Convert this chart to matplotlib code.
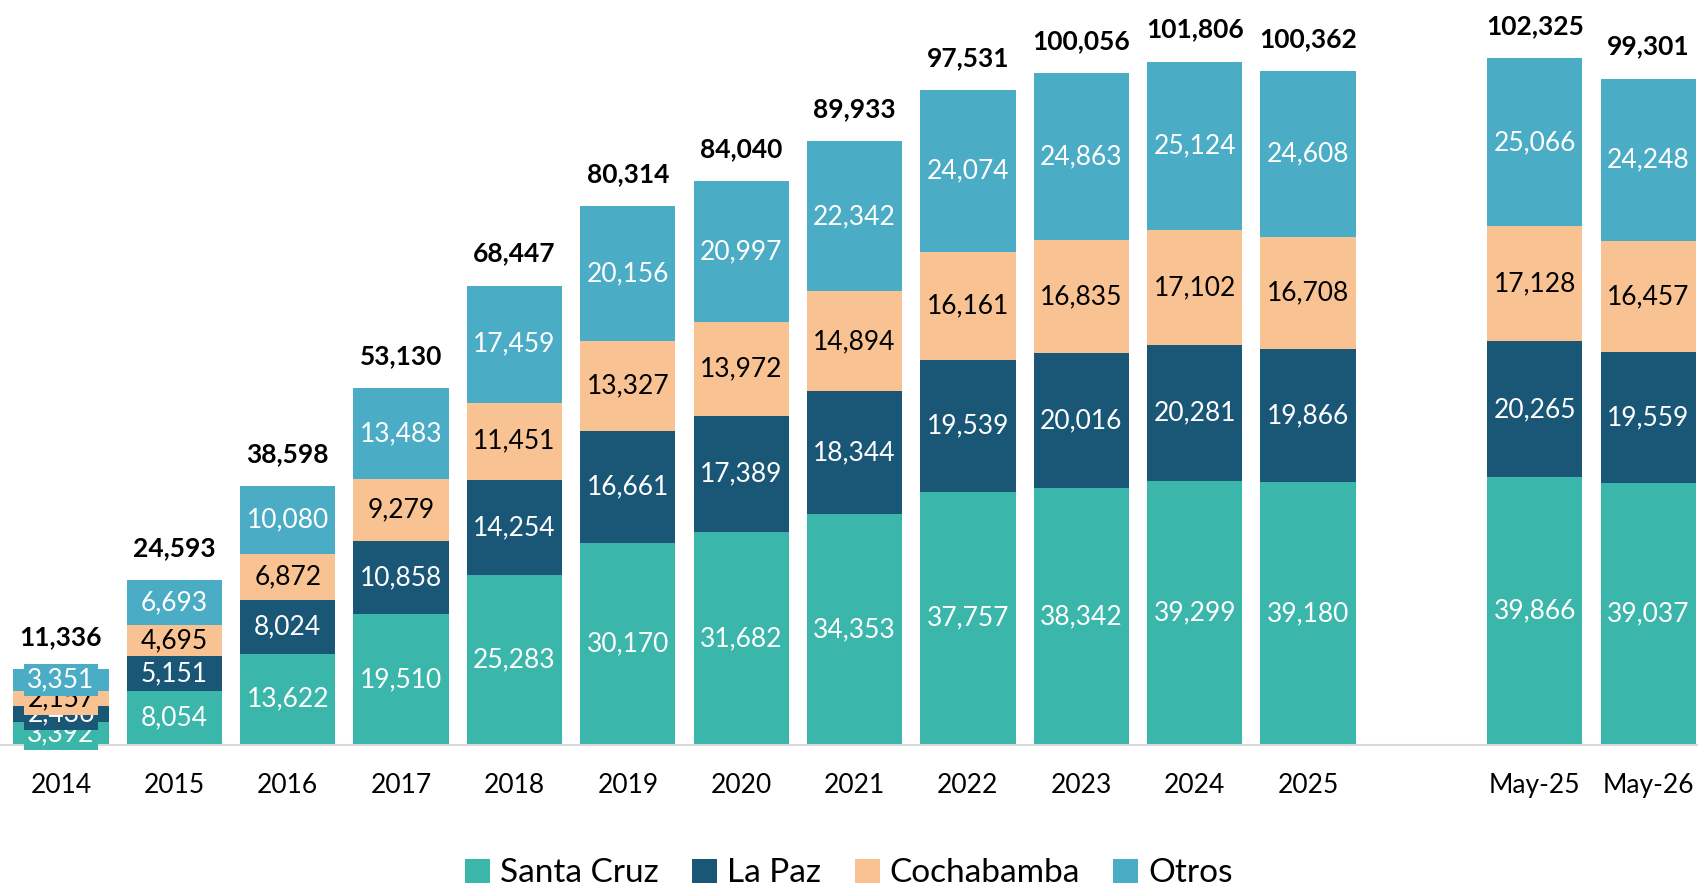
import matplotlib
matplotlib.use("Agg")
import matplotlib.pyplot as plt
import numpy as np
from matplotlib.patches import Patch

categories = ["2014", "2015", "2016", "2017", "2018", "2019", "2020", "2021",
              "2022", "2023", "2024", "2025", "May-25", "May-26"]
santa_cruz = [3392, 8054, 13622, 19510, 25283, 30170, 31682, 34353, 37757, 38342, 39299, 39180, 39866, 39037]
la_paz = [2436, 5151, 8024, 10858, 14254, 16661, 17389, 18344, 19539, 20016, 20281, 19866, 20265, 19559]
cochabamba = [2157, 4695, 6872, 9279, 11451, 13327, 13972, 14894, 16161, 16835, 17102, 16708, 17128, 16457]
otros = [3351, 6693, 10080, 13483, 17459, 20156, 20997, 22342, 24074, 24863, 25124, 24608, 25066, 24248]
totals = [11336, 24593, 38598, 53130, 68447, 80314, 84040, 89933, 97531, 100056, 101806, 100362, 102325, 99301]
series_names = ["Santa Cruz", "La Paz", "Cochabamba", "Otros"]

colors = ["#3BB6AA", "#1A5776", "#F8C292", "#4BACC6"]
text_colors = ["white", "white", "black", "white"]

plt.rcParams['font.family'] = ['Lato', 'DejaVu Sans']

fig = plt.figure(figsize=(16.98, 8.9), dpi=100)
ax = fig.add_axes([0, (890 - 745) / 890, 1, 745 / 890])

n = len(categories)
x = np.arange(n, dtype=float)
x[12:] += 1  # gap before monthly comparison
width = 0.84

series = [santa_cruz, la_paz, cochabamba, otros]
bottom = np.zeros(n)
for vals, col, tcol in zip(series, colors, text_colors):
    vals = np.array(vals, dtype=float)
    ax.bar(x, vals, width, bottom=bottom, color=col, zorder=2)
    for i in range(n):
        yc = bottom[i] + vals[i] / 2
        kw = {}
        if i == 0:
            kw = dict(bbox=dict(facecolor=col, edgecolor='none', pad=2.5))
        ax.text(x[i], yc, f"{int(vals[i]):,}", ha='center', va='center',
                color=tcol, fontsize=19, zorder=3, **kw)
    bottom += vals

for i in range(n):
    ax.text(x[i], totals[i] + 3000, f"{totals[i]:,}", ha='center', va='bottom',
            fontsize=19, fontweight='bold', color='black')

ax.set_xlim(-0.538, 14.44)
ax.set_ylim(0, 111000)
ax.set_xticks(x)
ax.set_xticklabels(categories, fontsize=19)
ax.tick_params(axis='x', length=0, pad=20)
ax.set_yticks([])
for s in ['top', 'right', 'left']:
    ax.spines[s].set_visible(False)
ax.spines['bottom'].set_color('#D9D9D9')
ax.spines['bottom'].set_linewidth(1.5)

handles = [Patch(facecolor=c, edgecolor='none') for c in colors]
fig.legend(handles, series_names, loc='lower center', bbox_to_anchor=(0.5, 0.0),
           borderaxespad=0.0, borderpad=0.05,
           ncol=4, frameon=False, fontsize=24, handlelength=0.75, handleheight=0.75,
           handletextpad=0.3, columnspacing=1.0)

fig.savefig("out.png", dpi=100)
